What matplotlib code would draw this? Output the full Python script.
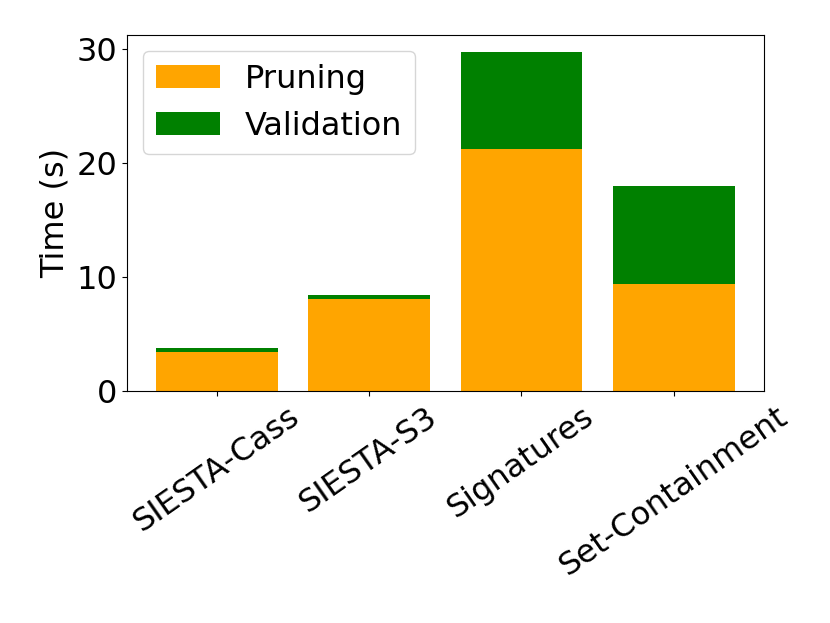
import numpy as np
import matplotlib
matplotlib.use("Agg")
import matplotlib.pyplot as plt

# Data
methods = ["SIESTA-Cass", "SIESTA-S3", "Signatures", "Set-Containment"]
pruning = [3.4, 8.05, 21.2, 9.4]
validation = [0.4, 0.4, 8.55, 8.6]

plt.rcParams["font.size"] = 23

fig, ax = plt.subplots(figsize=(8.3, 6.23), dpi=100)
fig.subplots_adjust(left=0.153, right=0.920, top=0.944, bottom=0.372)

x = np.arange(len(methods))
ax.bar(x, pruning, color="orange", label="Pruning")
ax.bar(x, validation, bottom=pruning, color="green", label="Validation")

ax.set_xticks(x)
ax.set_xticklabels(methods, rotation=35)
ax.set_ylabel("Time (s)")
ax.set_yticks([0, 10, 20, 30])
ax.legend(loc="upper left")

fig.savefig("out.png", dpi=100)
